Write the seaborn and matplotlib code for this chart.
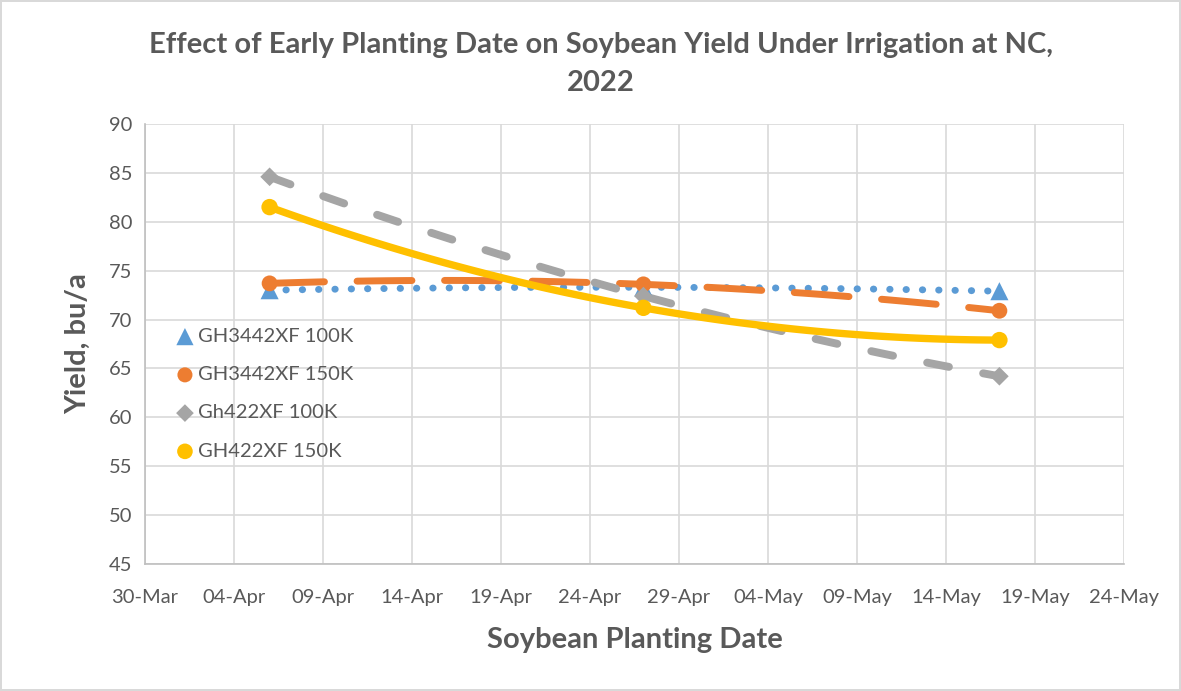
import matplotlib
matplotlib.use("Agg")
import matplotlib.pyplot as plt
import matplotlib.dates as mdates
import numpy as np
import pandas as pd
import seaborn as sns

# ---- data ----
dates = ["2022-04-06", "2022-04-27", "2022-05-17"]
series_names = ["GH3442XF 100K", "GH3442XF 150K", "Gh422XF 100K", "GH422XF 150K"]
gh3442_100 = [73.0, 73.3, 72.9]
gh3442_150 = [73.7, 73.6, 70.9]
gh422_100 = [84.6, 72.4, 64.2]
gh422_150 = [81.5, 71.2, 67.9]
x_start, x_end = "2022-03-30", "2022-05-24"
y_ticks = [45, 50, 55, 60, 65, 70, 75, 80, 85, 90]

sns.set_theme(style="white")
plt.rcParams["font.family"] = ["Lato", "DejaVu Sans"]

colors = ["#5B9BD5", "#ED7D31", "#A5A5A5", "#FFC000"]
markers = ["^", "o", "D", "o"]
msizes = [170, 130, 90, 140]
line_styles = [(0, (0.05, 2.3)), (0, (7.9, 4.7)), (0, (2.8, 4.4)), "-"]
line_widths = [5.0, 5.0, 5.7, 5.3]

xnum = mdates.date2num(pd.to_datetime(dates))
rows = []
for name, vals in zip(series_names, [gh3442_100, gh3442_150, gh422_100, gh422_150]):
    for x, v in zip(xnum, vals):
        rows.append({"x": x, "y": v, "series": name})
df = pd.DataFrame(rows)

fig = plt.figure(figsize=(11.81, 6.91), dpi=100)
fig.patch.set_edgecolor("#D9D9D9")
fig.patch.set_linewidth(1.5)
ax = fig.add_axes([145 / 1181, 1 - 564 / 691, (1124 - 145) / 1181, (564 - 124) / 691])

# trendlines (2nd order polynomial)
for i, name in enumerate(series_names):
    sub = df[df["series"] == name]
    sns.regplot(data=sub, x="x", y="y", order=2, ci=None, scatter=False, ax=ax,
                line_kws=dict(color=colors[i], linestyle=line_styles[i],
                              linewidth=line_widths[i], solid_capstyle="round",
                              dash_capstyle="round", zorder=3 + i * 0.1))

# markers
for i, name in enumerate(series_names):
    sub = df[df["series"] == name]
    sns.scatterplot(data=sub, x="x", y="y", marker=markers[i], s=msizes[i],
                    color=colors[i], edgecolor="none", ax=ax, label=name,
                    zorder=4 + i * 0.1)

xticks = mdates.date2num(pd.date_range(x_start, x_end, freq="5D"))
ax.set_xlim(xticks[0], xticks[-1])
ax.set_xticks(xticks)
ax.xaxis.set_major_formatter(mdates.DateFormatter("%d-%b"))
ax.set_ylim(45, 90)
ax.set_yticks(y_ticks)

ax.grid(True, color="#D9D9D9", linewidth=1.2)
ax.set_axisbelow(True)
for s in ["top", "right"]:
    ax.spines[s].set_visible(False)
for s in ["left", "bottom"]:
    ax.spines[s].set_color("#BFBFBF")
    ax.spines[s].set_linewidth(1.2)
ax.tick_params(axis="x", colors="#595959", labelsize=14.5, length=0, pad=18)
ax.tick_params(axis="y", colors="#595959", labelsize=14.5, length=0, pad=9)

ax.set_xlabel("Soybean Planting Date", fontsize=21, fontweight="bold", color="#595959", labelpad=15)
ax.set_ylabel("Yield, bu/a", fontsize=21, fontweight="bold", color="#595959", labelpad=13)
fig.suptitle("Effect of Early Planting Date on Soybean Yield Under Irrigation at NC,\n2022",
             fontsize=21, fontweight="bold", color="#595959", y=0.953, x=0.509,
             linespacing=1.55)

leg = ax.legend(loc="upper left", bbox_to_anchor=(0.012, 0.578), frameon=False,
                fontsize=14.5, labelcolor="#595959", handletextpad=0.15,
                labelspacing=1.05, handlelength=1.0, markerscale=0.95)

fig.savefig("out.png", dpi=100)
